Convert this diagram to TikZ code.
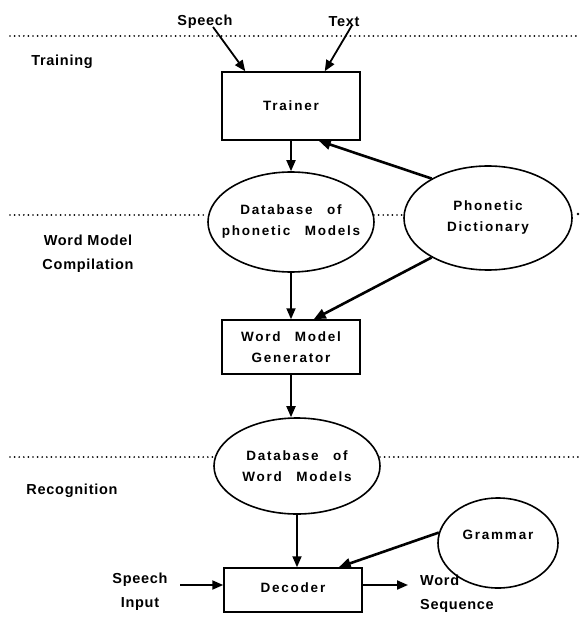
\documentclass[tikz,border=0pt]{standalone}
\usepackage{fontspec}
\setmainfont{Liberation Sans}
\newfontfamily\labelfont[LetterSpace=5]{Liberation Sans Bold}
\newfontfamily\boxfont[LetterSpace=13,WordSpace=2.6]{Liberation Sans Bold}
\usetikzlibrary{arrows.meta,positioning,calc,shapes.geometric}
% two centred lines that do not widen the ellipse round them
\newcommand{\inell}[2]{\makebox[0pt]{#1}\\\makebox[0pt]{#2}}

\begin{document}
\begin{tikzpicture}[x=1pt,y=-1pt,
  lbl/.style={font=\labelfont\fontsize{14.5}{24}\selectfont,align=center,inner sep=0pt},
  unit/.style={draw,line width=1.5pt,font=\boxfont\fontsize{13.5}{21}\selectfont,align=center,minimum width=138pt},
  store/.style={ellipse,draw,line width=1.6pt,font=\boxfont\fontsize{13.5}{21}\selectfont,align=center,inner sep=0pt},
  flow/.style={-{Triangle[length=11pt,width=9pt]},line width=1.8pt},
  feed/.style={-{Triangle[length=12pt,width=10pt]},line width=2.6pt},
  phase/.style={line width=1.9pt,line cap=round,dash pattern=on 0pt off 4.6pt}]
\useasboundingbox (0,0) rectangle (583,617);
% boxes and stores
\node[unit,minimum height=68pt] (trainer) at (291,106) {Trainer};
\node[store,minimum width=166pt,minimum height=100pt] (phondb) at (291,222) {\inell{Database of}{phonetic Models}};
\node[store,minimum width=168pt,minimum height=104pt] (dict) at (488,218) {\inell{Phonetic}{Dictionary}};
\node[unit,minimum height=54pt] (wmgen) at (291,347) {Word Model\\Generator};
\node[store,minimum width=166pt,minimum height=96pt] (worddb) at (297,466) {\inell{Database of}{Word Models}};
\node[store,minimum width=120pt,minimum height=90pt] (grammar) at (498,543) {\raisebox{16pt}{Grammar}};
\node[unit,minimum height=44pt] (decoder) at (293,590) {\raisebox{5pt}{Decoder}};
% labels
\node[lbl] (speech) at (205,22) {Speech};
\node[lbl] (text) at (344,22) {Text};
\node[lbl] (training) at (62,62) {Training};
\node[lbl] (compile) at (88,254) {Word Model\\Compilation};
\node[lbl] (recog) at (72,491) {Recognition};
\node[lbl] (sin) at (140,592) {Speech\\Input};
\node[lbl,align=left,anchor=west] (wseq) at (420,594) {Word\\Sequence};
% phase borders
\draw[phase] (10,36) -- (580,36);
\draw[phase] (10,215) -- (10,215 -| phondb.west);
\draw[phase] (374,215) -- (374,215 -| dict.west);
\fill (578,214) circle (1.3pt);
\draw[phase] (10,457) -- (10,457 -| worddb.west);
\draw[phase] (380,457) -- (580,457);
% connectors
\coordinate (sinend) at (180,585);
\coordinate (seqend) at (408,585);
\draw[flow] (speech.south) ++(8pt,2pt) -- ([xshift=24pt]trainer.north west);
\draw[flow] (text.south) ++(8pt,2pt) -- ([xshift=-36pt]trainer.north east);
\draw[flow] (trainer.south) -- (phondb.north);
\draw[feed] (dict.145) -- ([xshift=-42pt]trainer.south east);
\draw[flow] (phondb.south) -- (wmgen.north);
\draw[feed] (dict.215) -- ([xshift=-47pt]wmgen.north east);
\draw[flow] (wmgen.south) -- (worddb.north -| wmgen.south);
\draw[flow] (worddb.south) -- (decoder.north -| worddb.south);
\draw[feed] (grammar.170) -- ([xshift=-24pt]decoder.north east);
\draw[flow,line width=2pt] (sinend) -- (decoder.west |- sinend);
\draw[flow,line width=2pt] (decoder.east |- seqend) -- (seqend);
\end{tikzpicture}
\end{document}
